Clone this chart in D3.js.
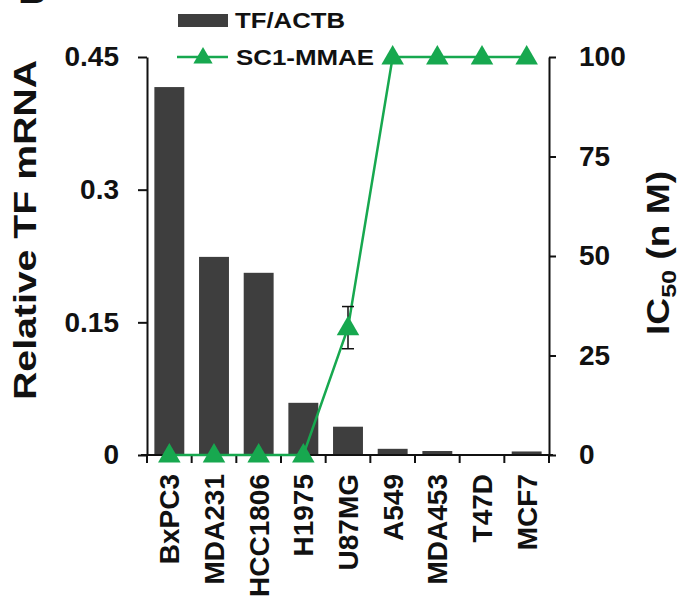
<!DOCTYPE html>
<html>
<head>
<meta charset="utf-8">
<script src="https://cdn.jsdelivr.net/npm/d3@7"></script>
<style>
  body { margin: 0; background: #fff; }
  svg { display: block; font-family: "Liberation Sans", Arial, sans-serif; font-weight: bold; }
</style>
</head>
<body>
<svg width="682" height="601"></svg>
<script>
var cells = ["BxPC3", "MDA231", "HCC1806", "H1975", "U87MG", "A549", "MDA453", "T47D", "MCF7"];
var tfActb = [0.416, 0.224, 0.206, 0.059, 0.032, 0.007, 0.0045, 0, 0.004];
var ic50 = [0, 0, 0, 0, 32, 100, 100, 100, 100];
var ic50Err = [0, 0, 0, 0, 5.3, 0, 0, 0, 0];
var leftTicks = [0, 0.15, 0.3, 0.45];
var leftTickLabels = ["0", "0.15", "0.3", "0.45"];
var rightTicks = [0, 25, 50, 75, 100];

var green = "#17a84f",
    barColor = "#3e3e3e";

var svg = d3.select("svg"),
    plotL = 147, plotR = 549, plotT = 57, plotB = 455;

var x = d3.scaleBand()
    .domain(cells)
    .range([plotL, plotR])
    .paddingInner(0.33)
    .paddingOuter(0.165);

var y = d3.scaleLinear()
    .domain([0, 0.45])
    .range([plotB, plotT]);

var y2 = d3.scaleLinear()
    .domain([0, 100])
    .range([plotB, plotT]);

function mid(c) { return x(c) + x.bandwidth() / 2; }

// bars
svg.append("g")
  .selectAll("rect")
  .data(cells)
  .join("rect")
    .attr("x", function(d) { return x(d); })
    .attr("width", x.bandwidth())
    .attr("y", function(d, i) { return y(tfActb[i]); })
    .attr("height", function(d, i) { return plotB - y(tfActb[i]); })
    .attr("fill", barColor);

// left axis
var gl = svg.append("g")
    .attr("transform", "translate(" + plotL + ",0)")
    .call(d3.axisLeft(y)
      .tickValues(leftTicks)
      .tickFormat(function(d, i) { return leftTickLabels[i]; })
      .tickSize(9)
      .tickSizeOuter(0)
      .tickPadding(19));
gl.selectAll("text").style("font-size", "28px").style("font-family", null).attr("fill", "#111");

// right axis
var gr = svg.append("g")
    .attr("transform", "translate(" + plotR + ",0)")
    .call(d3.axisRight(y2)
      .tickValues(rightTicks)
      .tickSize(7)
      .tickSizeOuter(0)
      .tickPadding(23));
gr.selectAll("text").style("font-size", "28px").style("font-family", null).attr("fill", "#111");

svg.selectAll(".domain, .tick line").attr("stroke", "#111").attr("stroke-width", 2);

// x axis with ticks at band boundaries
var bounds = cells.map(function(c) { return x(c) - x.step() * x.paddingInner() / 2; });
bounds.push(plotR);
var gx = svg.append("g");
gx.append("line")
    .attr("x1", plotL - 6).attr("x2", plotR + 4)
    .attr("y1", plotB).attr("y2", plotB)
    .attr("stroke", "#111").attr("stroke-width", 2);
gx.selectAll("line.tk")
  .data(bounds)
  .join("line")
    .attr("class", "tk")
    .attr("x1", function(d) { return d; }).attr("x2", function(d) { return d; })
    .attr("y1", plotB).attr("y2", plotB + 8)
    .attr("stroke", "#111").attr("stroke-width", 2);
gx.selectAll("text")
  .data(cells)
  .join("text")
    .attr("transform", function(d) { return "translate(" + mid(d) + "," + (plotB + 19) + ") rotate(-90)"; })
    .attr("dy", "0.36em")
    .attr("text-anchor", "end")
    .style("font-size", "28px")
    .attr("fill", "#111")
    .text(function(d) { return d; });

// IC50 line
var line = d3.line()
    .x(function(d, i) { return mid(cells[i]); })
    .y(function(d) { return y2(d); });

svg.append("path")
    .datum(ic50)
    .attr("fill", "none")
    .attr("stroke", green)
    .attr("stroke-width", 2.5)
    .attr("d", line);

// error bars
var eb = svg.append("g").attr("stroke", "#111").attr("stroke-width", 1.5);
cells.forEach(function(c, i) {
  if (!ic50Err[i]) return;
  var cx = mid(c);
  eb.append("line").attr("x1", cx).attr("x2", cx)
    .attr("y1", y2(ic50[i] + ic50Err[i])).attr("y2", y2(ic50[i] - ic50Err[i]));
  [ic50[i] + ic50Err[i], ic50[i] - ic50Err[i]].forEach(function(v) {
    eb.append("line").attr("x1", cx - 6).attr("x2", cx + 6)
      .attr("y1", y2(v)).attr("y2", y2(v));
  });
});

var tri = d3.symbol().type(d3.symbolTriangle).size(220);
svg.append("g")
  .selectAll("path")
  .data(ic50)
  .join("path")
    .attr("transform", function(d, i) { return "translate(" + mid(cells[i]) + "," + (y2(d) + 1) + ")"; })
    .attr("d", tri)
    .attr("fill", green);

// legend
var lg = svg.append("g");
lg.append("rect")
    .attr("x", 178).attr("y", 14).attr("width", 50).attr("height", 13)
    .attr("fill", barColor);
lg.append("text")
    .attr("x", 235).attr("y", 28)
    .attr("textLength", 110).attr("lengthAdjust", "spacingAndGlyphs")
    .style("font-size", "22px").attr("fill", "#111")
    .text("TF/ACTB");
lg.append("line")
    .attr("x1", 177).attr("x2", 228).attr("y1", 57).attr("y2", 57)
    .attr("stroke", green).attr("stroke-width", 2.5);
lg.append("path")
    .attr("transform", "translate(203,58)")
    .attr("d", d3.symbol().type(d3.symbolTriangle).size(160))
    .attr("fill", green);
lg.append("text")
    .attr("x", 236).attr("y", 65)
    .attr("textLength", 138).attr("lengthAdjust", "spacingAndGlyphs")
    .style("font-size", "22px").attr("fill", "#111")
    .text("SC1-MMAE");

// axis titles
svg.append("text")
    .attr("transform", "translate(25,230) rotate(-90)")
    .attr("dy", "0.36em")
    .attr("text-anchor", "middle")
    .attr("textLength", 340).attr("lengthAdjust", "spacingAndGlyphs")
    .style("font-size", "31px").attr("fill", "#111")
    .text("Relative TF mRNA");

var rt = svg.append("text")
    .attr("transform", "translate(658,253) rotate(-90)")
    .attr("dy", "0.36em")
    .attr("text-anchor", "middle")
    .attr("textLength", 164).attr("lengthAdjust", "spacingAndGlyphs")
    .style("font-size", "31px").attr("fill", "#111");
rt.append("tspan").text("IC");
rt.append("tspan").attr("dy", 7).style("font-size", "21px").text("50");
rt.append("tspan").attr("dy", -7).text(" (n M)");

// panel letter, cut by the top edge
svg.append("text")
    .attr("x", 18).attr("y", 3)
    .style("font-size", "40px").attr("fill", "#111")
    .text("B");
</script>
</body>
</html>
